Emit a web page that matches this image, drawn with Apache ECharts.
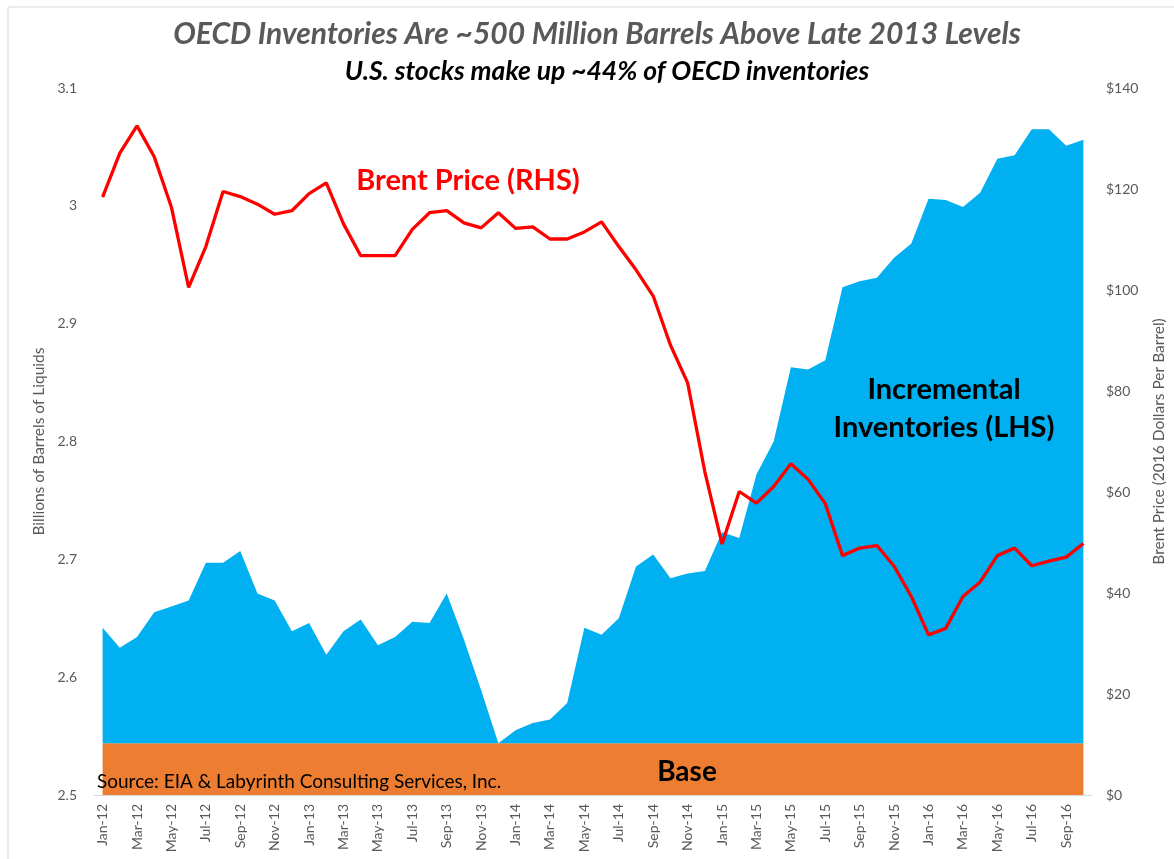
<!DOCTYPE html>
<html>
<head>
<meta charset="utf-8">
<script src="https://cdn.jsdelivr.net/npm/echarts@6/dist/echarts.min.js"></script>
<style>
  html, body { margin: 0; padding: 0; background: #fff; }
  #chart { width: 1174px; height: 859px; }
</style>
</head>
<body>
<div id="chart"></div>
<script>
// monthly categories, Jan-12 .. Oct-16
var months = [
  'Jan-12','Feb-12','Mar-12','Apr-12','May-12','Jun-12','Jul-12','Aug-12','Sep-12','Oct-12','Nov-12','Dec-12',
  'Jan-13','Feb-13','Mar-13','Apr-13','May-13','Jun-13','Jul-13','Aug-13','Sep-13','Oct-13','Nov-13','Dec-13',
  'Jan-14','Feb-14','Mar-14','Apr-14','May-14','Jun-14','Jul-14','Aug-14','Sep-14','Oct-14','Nov-14','Dec-14',
  'Jan-15','Feb-15','Mar-15','Apr-15','May-15','Jun-15','Jul-15','Aug-15','Sep-15','Oct-15','Nov-15','Dec-15',
  'Jan-16','Feb-16','Mar-16','Apr-16','May-16','Jun-16','Jul-16','Aug-16','Sep-16','Oct-16'
];

// base level of OECD inventories (billion barrels)
var baseLevel = 2.544;

// total OECD inventories (billion barrels), top of the blue area
var inventories = [
  2.642, 2.625, 2.634, 2.655, 2.660, 2.665, 2.697, 2.697, 2.707, 2.671,
  2.665, 2.639, 2.646, 2.619, 2.639, 2.649, 2.627, 2.634, 2.647, 2.646,
  2.671, 2.632, 2.589, 2.544, 2.555, 2.561, 2.564, 2.578, 2.642, 2.636,
  2.650, 2.694, 2.704, 2.684, 2.688, 2.690, 2.723, 2.718, 2.772, 2.800,
  2.863, 2.861, 2.869, 2.931, 2.936, 2.939, 2.956, 2.968, 3.006, 3.005,
  2.999, 3.011, 3.040, 3.043, 3.065, 3.065, 3.051, 3.056
];

// Brent price, 2016 dollars per barrel
var brent = [
  118.4, 127.1, 132.5, 126.4, 116.4, 100.5, 108.6, 119.5, 118.5, 117.0,
  115.0, 115.7, 119.1, 121.2, 113.1, 106.8, 106.8, 106.8, 112.0, 115.3,
  115.7, 113.3, 112.3, 115.3, 112.2, 112.5, 110.1, 110.1, 111.5, 113.5,
  108.6, 104.0, 98.8, 89.1, 81.6, 64.0, 49.7, 60.1, 57.8, 61.1,
  65.6, 62.5, 57.7, 47.4, 48.9, 49.4, 45.3, 39.3, 31.7, 33.0,
  39.3, 42.2, 47.4, 48.9, 45.4, 46.3, 47.1, 49.8
];

var baseData = months.map(function () { return baseLevel; });
var incremental = inventories.map(function (v) { return +(v - baseLevel).toFixed(4); });

var font = 'Lato, "Open Sans", sans-serif';
var grey = '#595959';

var chart = echarts.init(document.getElementById('chart'));

var option = {
  backgroundColor: '#fff',
  animation: false,
  textStyle: { fontFamily: font },
  grid: { left: 94, right: 82, top: 88, bottom: 64, outerBoundsMode: 'none', containLabel: false },
  xAxis: {
    type: 'category',
    data: months,
    boundaryGap: true,
    axisLine: { lineStyle: { color: '#d9d9d9' } },
    axisTick: { interval: 1, length: 5, lineStyle: { color: '#d9d9d9' } },
    axisLabel: { interval: 1, rotate: 90, color: grey, fontSize: 14, margin: 9, fontFamily: font }
  },
  yAxis: [
    {
      type: 'value',
      min: 2.5, max: 3.1, interval: 0.1,
      name: 'Billions of Barrels of Liquids',
      nameLocation: 'middle',
      nameGap: 45,
      nameRotate: 90,
      nameTextStyle: { color: grey, fontSize: 15.5, fontFamily: font },
      axisLine: { show: false },
      axisTick: { show: false },
      splitLine: { show: false },
      axisLabel: { color: grey, fontSize: 14, margin: 17, fontFamily: font }
    },
    {
      type: 'value',
      min: 0, max: 140, interval: 20,
      name: 'Brent Price (2016 Dollars Per Barrel)',
      nameLocation: 'middle',
      nameGap: 59,
      nameRotate: 90,
      nameTextStyle: { color: grey, fontSize: 15.5, fontFamily: font },
      axisLine: { show: false },
      axisTick: { show: false },
      splitLine: { show: false },
      axisLabel: { color: grey, fontSize: 14, margin: 14, formatter: '${value}', fontFamily: font }
    }
  ],
  series: [
    {
      name: 'Base',
      type: 'line',
      stack: 'inv',
      data: baseData,
      symbol: 'none',
      lineStyle: { width: 0 },
      areaStyle: { color: '#ED7D31', opacity: 1 },
      z: 1
    },
    {
      name: 'Incremental Inventories',
      type: 'line',
      stack: 'inv',
      data: incremental,
      symbol: 'none',
      lineStyle: { width: 0 },
      areaStyle: { color: '#00B0F0', opacity: 1 },
      z: 1
    },
    {
      name: 'Brent Price',
      type: 'line',
      yAxisIndex: 1,
      data: brent,
      symbol: 'none',
      lineStyle: { color: '#FF0000', width: 3.3 },
      z: 3
    }
  ],
  graphic: [
    { type: 'rect', shape: { x: 8, y: 7, width: 1200, height: 900 }, style: { fill: 'none', stroke: '#d9d9d9', lineWidth: 1 }, silent: true },
    { type: 'text', x: 597, y: 34, style: { text: 'OECD Inventories Are ~500 Million Barrels Above Late 2013 Levels', font: 'italic bold 30px ' + font, fill: grey, textAlign: 'center', textVerticalAlign: 'middle' } },
    { type: 'text', x: 607, y: 71, style: { text: 'U.S. stocks make up ~44% of OECD inventories', font: 'italic bold 26.5px ' + font, fill: '#000', textAlign: 'center', textVerticalAlign: 'middle' } },
    { type: 'text', x: 468, y: 181, z: 10, style: { text: 'Brent Price (RHS)', font: 'bold 29px ' + font, fill: '#FF0000', textAlign: 'center', textVerticalAlign: 'middle' } },
    { type: 'text', x: 944, y: 409, z: 10, style: { text: 'Incremental\nInventories (LHS)', font: 'bold 29px ' + font, lineHeight: 38, fill: '#000', textAlign: 'center', textVerticalAlign: 'middle' } },
    { type: 'text', x: 687, y: 772, z: 10, style: { text: 'Base', font: 'bold 28px ' + font, fill: '#000', textAlign: 'center', textVerticalAlign: 'middle' } },
    { type: 'text', x: 97, y: 782, z: 10, style: { text: 'Source: EIA & Labyrinth Consulting Services, Inc.', font: '19px ' + font, fill: '#000', textAlign: 'left', textVerticalAlign: 'middle' } }
  ]
};

chart.setOption(option);
</script>
</body>
</html>
